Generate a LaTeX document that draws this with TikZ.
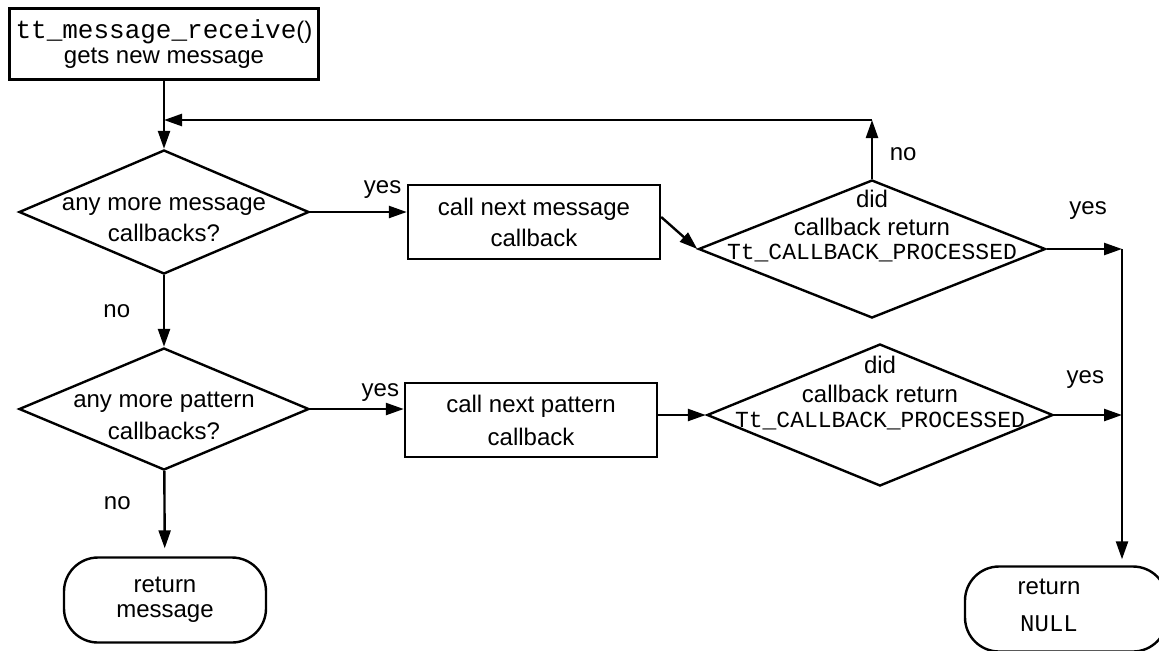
\documentclass[tikz,border=0pt]{standalone}
\usepackage{fontspec}
\setmainfont{Liberation Sans}
\setmonofont{Liberation Mono}
\usetikzlibrary{shapes.geometric,arrows.meta}

\begin{document}
\begin{tikzpicture}[x=0.5pt, y=-0.5pt, line width=1.2pt,
    >={Triangle[length=9pt,width=6pt]},
    every node/.style={font=\fontsize{12}{15.5}\selectfont, align=center},
    decision/.style={draw, diamond, inner sep=0pt},
    stepbox/.style={draw, minimum width=126pt, minimum height=37pt},
    endbox/.style={draw, rounded corners=17pt, minimum width=101pt, minimum height=42.5pt}]
        \useasboundingbox (0,0) rectangle (1159,650);

        \node[draw, minimum width=154.5pt, minimum height=35.5pt, inner sep=0pt, font=\fontsize{12}{12.5}\selectfont] (recv) at (164,44)
            {{\fontsize{13}{13}\selectfont\texttt{tt\_message\_receive}}()\\gets new message};

        \node[decision, minimum width=145pt, minimum height=62pt] (msgq) at (164,212) {};
        \node(msgqtxt) at (164,220) {any more message\\callbacks?};
        \node[stepbox] (callmsg) at (534,222) {call next message\\callback};
        \node[decision, minimum width=173.5pt, minimum height=69pt] (msgdone) at (872,249) {};
        \node[font=\fontsize{12}{14}\selectfont](msgdonetxt) at (872,226) {did\\callback return\\[-2pt]{\fontsize{11.5}{11.5}\selectfont\texttt{Tt\_CALLBACK\_PROCESSED}}};

        \node[decision, minimum width=145pt, minimum height=61pt] (patq) at (164,409) {};
        \node[font=\fontsize{12}{16}\selectfont](patqtxt) at (164,416) {any more pattern\\callbacks?};
        \node[stepbox, font=\fontsize{12}{16.5}\selectfont] (callpat) at (531,420) {call next pattern\\callback};
        \node[decision, minimum width=173pt, minimum height=71pt] (patdone) at (880,415) {};
        \node[font=\fontsize{12}{14.5}\selectfont](patdonetxt) at (880,393) {did\\callback return\\[-2pt]{\fontsize{11.5}{11.5}\selectfont\texttt{Tt\_CALLBACK\_PROCESSED}}};

        \node[endbox, font=\fontsize{12}{12.5}\selectfont] (retmsg) at (165,600) {return\\message};
        \node[endbox] (retnull) at (1066,609) {};
        \node[font=\fontsize{12}{18.5}\selectfont](retnulltxt) at (1049,605) {return\\\texttt{NULL}};

        \coordinate (loopL) at (164,120);
        \coordinate (loopR) at (msgdone.north |- loopL);
        \coordinate (bus) at (1122,0);

          \draw[->] (recv) -- (msgq);
          \draw[->] (msgq.east) -- (msgq.east -| callmsg.west)
                    node[pos=0.75, above=3pt] (yes1) {yes};
          \draw[->] ([yshift=2.5pt]callmsg.east) -- (msgdone.west);
          \draw[->] (msgdone.north) -- (loopR)
                    node[pos=0.42, right=5pt] (no2) {no};
          \draw[->] (loopR) -- (loopL);
          \draw[->] (msgdone.east) -- (msgdone.east -| bus)
                    node[pos=0.55, above=11pt] (yes2) {yes};

        \draw[->] (msgq) -- (patq) node[midway, left=13pt] (no1) {no};
        \draw[->] (patq.east) -- (patq.east -| callpat.west)
                  node[pos=0.75, above=0pt] (yes3) {yes};
        \draw[->] (callpat.east |- patdone.west) -- (patdone.west);
        \draw[->] (patdone.east) -- (patdone.east -| bus)
                  node[pos=0.46, above=9.5pt] (yes4) {yes};

        \draw[->, shorten >=3pt] (msgdone.east -| bus) -- (retnull.north -| bus);
        \draw[->, shorten >=4pt] (patq) -- (retmsg) node[pos=0.38, left=13pt] (no3) {no};

      \end{tikzpicture}
\end{document}
